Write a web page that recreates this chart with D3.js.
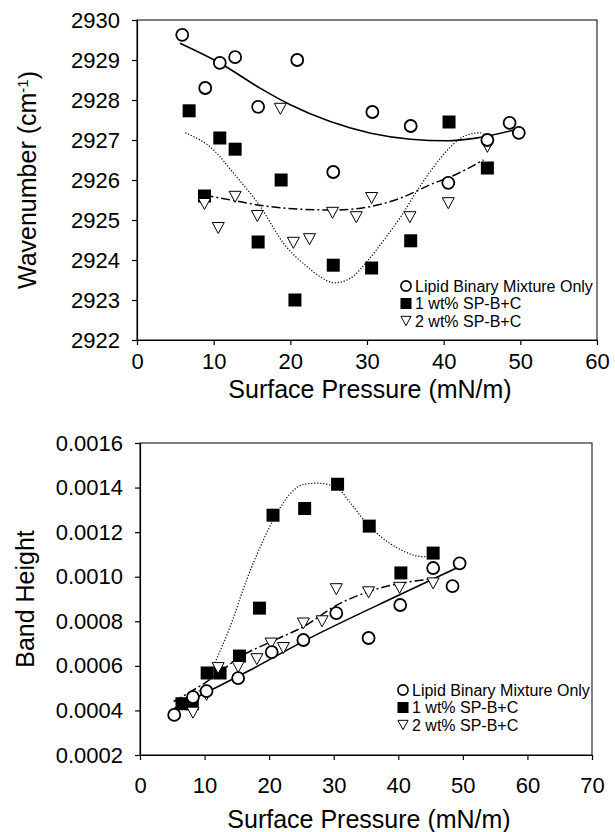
<!DOCTYPE html>
<meta charset="utf-8">
<style>
    body { margin: 0; background: #fff; }
    svg { font-family: "Liberation Sans", Arial, Helvetica, sans-serif; }
    .axis text { font-size: 22px; fill: #000; }
    .axis path, .axis line { stroke: #000; stroke-width: 1.2px; }
    .frame { fill: none; stroke: #000; stroke-width: 1px; }
    .title { font-size: 25px; fill: #000; }
    .legend text { font-size: 16px; fill: #000; }
    .fit { fill: none; stroke: #000; }
    .fit--lipid { stroke-width: 1.6px; }
    .fit--sp1 { stroke-width: 1.2px; stroke-dasharray: 1.2, 1.8; }
    .fit--sp2 { stroke-width: 1.5px; stroke-dasharray: 9, 3, 2, 3; }
</style>
<svg width="615" height="832"></svg>
<script src="https://d3js.org/d3.v7.min.js"></script>
<script>

    var legendLabels = ["Lipid Binary Mixture Only", "1 wt% SP-B+C", "2 wt% SP-B+C"];

    // top panel: wavenumber vs surface pressure
    var topXTicks = [0, 10, 20, 30, 40, 50, 60];
    var topYTicks = [2922, 2923, 2924, 2925, 2926, 2927, 2928, 2929, 2930];

    var topLipid = [[5.9, 2929.63], [8.9, 2928.3], [10.8, 2928.93], [12.8, 2929.07], [15.8, 2927.83], [20.9, 2929.0],
        [25.6, 2926.2], [30.7, 2927.7], [35.7, 2927.35], [40.6, 2925.93], [45.7, 2927.0], [48.6, 2927.43], [49.8, 2927.18]];
    var topSp1 = [[6.8, 2927.73], [8.8, 2925.6], [10.8, 2927.05], [12.8, 2926.77], [15.8, 2924.45], [18.8, 2926.0],
        [20.6, 2923.0], [25.6, 2923.87], [30.6, 2923.8], [35.7, 2924.48], [40.7, 2927.45], [45.7, 2926.3]];
    var topSp2 = [[8.8, 2925.4], [10.6, 2924.8], [12.8, 2925.58], [15.7, 2925.1], [18.7, 2927.78], [20.4, 2924.43],
        [22.5, 2924.52], [25.5, 2925.18], [28.6, 2925.07], [30.6, 2925.55], [35.6, 2925.07], [40.6, 2925.42], [45.7, 2926.83]];

    var topLipidFit = [[5.6, 2929.42], [10.85, 2928.92], [16.1, 2928.29], [20, 2927.88], [25.2, 2927.46], [30.5, 2927.17],
        [35.7, 2927.02], [40.5, 2926.98], [44, 2927.04], [49.2, 2927.25]];
    var topSp1Fit = [[6.3, 2927.18], [10, 2926.75], [12.6, 2926.17], [16.1, 2925.33], [19.1, 2924.42], [22.2, 2923.83],
        [23.9, 2923.58], [25.7, 2923.43], [27.8, 2923.54], [30, 2923.96], [32.2, 2924.5], [34.4, 2925.08], [36.6, 2925.75],
        [38.7, 2926.33], [40.9, 2926.83], [43.1, 2927.13], [44.8, 2927.18], [45.5, 2927.08]];
    var topSp2Fit = [[8.8, 2925.62], [12.8, 2925.48], [16, 2925.37], [21.3, 2925.27], [25.6, 2925.25], [30, 2925.32],
        [34.4, 2925.55], [38.7, 2925.92], [40.9, 2926.08], [45.2, 2926.5]];

    // bottom panel: band height vs surface pressure
    var botXTicks = [0, 10, 20, 30, 40, 50, 60, 70];
    var botYTicks = [0.0002, 0.0004, 0.0006, 0.0008, 0.0010, 0.0012, 0.0014, 0.0016];

    var botLipid = [[5.3, 0.00038], [8.2, 0.00046], [10.3, 0.000487], [15.2, 0.000545], [20.4, 0.000662], [25.3, 0.000716],
        [30.4, 0.000837], [35.4, 0.000725], [40.3, 0.000873], [45.4, 0.001039], [48.4, 0.000958], [49.5, 0.00106]];
    var botSp1 = [[6.5, 0.00043], [8.1, 0.00043], [10.4, 0.000568], [12.4, 0.000568], [15.4, 0.000644], [18.5, 0.000859],
        [20.6, 0.001276], [25.5, 0.001306], [30.6, 0.001415], [35.5, 0.001227], [40.4, 0.001017], [45.4, 0.001106]];
    var botSp2 = [[8.2, 0.00039], [10.3, 0.00047], [12.1, 0.00059], [15.2, 0.000595], [18.1, 0.00063], [20.3, 0.0007],
        [22.2, 0.00068], [25.3, 0.00079], [28.2, 0.0008], [30.4, 0.000944], [35.4, 0.00093], [40.2, 0.00095], [45.4, 0.00097]];

    var botLipidFit = [[4.7, 0.0004], [17, 0.00058], [25.3, 0.00071], [40.3, 0.00092], [49.1, 0.00104]];
    var botSp1Fit = [[6.5, 0.00043], [8.5, 0.00047], [10.5, 0.00054], [11.4, 0.0006], [13.95, 0.000775], [16.5, 0.000985],
        [19.1, 0.001164], [21.2, 0.001285], [23.3, 0.001374], [25.3, 0.001414], [27.4, 0.00142], [30.5, 0.0014],
        [32.6, 0.00133], [35.1, 0.00124], [39.8, 0.00113], [43.9, 0.00109], [45.4, 0.0011]];
    var botSp2Fit = [[5.2, 0.00044], [10.9, 0.00054], [15.5, 0.00064], [21.2, 0.00072], [25.6, 0.00078], [30, 0.000865],
        [35.1, 0.00093], [40.3, 0.00097], [45.2, 0.00099]];

    var svg = d3.select("svg");

    drawPanel({
        x: d3.scaleLinear().domain([0, 60]).range([137, 597]),
        y: d3.scaleLinear().domain([2922, 2930]).range([340, 20]),
        xTicks: topXTicks, yTicks: topYTicks, yFormat: d3.format("d"),
        xLabelGap: 8, xTitleY: 398,
        lipid: topLipid, sp1: topSp1, sp2: topSp2,
        lipidFit: topLipidFit, sp1Fit: topSp1Fit, sp2Fit: topSp2Fit,
        legendX: 406, legendY: 286,
        yTitle: "Wavenumber", yTitleX: 27
    });

    drawPanel({
        x: d3.scaleLinear().domain([0, 70]).range([140, 592]),
        y: d3.scaleLinear().domain([0.0002, 0.0016]).range([755, 443]),
        xTicks: botXTicks, yTicks: botYTicks, yFormat: d3.format(".4f"),
        xLabelGap: 17, xTitleY: 828,
        lipid: botLipid, sp1: botSp1, sp2: botSp2,
        lipidFit: botLipidFit, sp1Fit: botSp1Fit, sp2Fit: botSp2Fit,
        legendX: 403, legendY: 690,
        yTitle: "Band Height", yTitleX: 25
    });

    function drawPanel(p) {
        var x = p.x, y = p.y;
        var x0 = x.range()[0], x1 = x.range()[1], y0 = y.range()[0], y1 = y.range()[1];

        svg.append("rect")
            .attr("class", "frame")
            .attr("x", x0).attr("y", y1)
            .attr("width", x1 - x0).attr("height", y0 - y1);

        svg.append("g")
            .attr("class", "axis")
            .attr("transform", "translate(0," + y0 + ")")
            .call(d3.axisBottom(x).tickValues(p.xTicks).tickSize(5).tickPadding(p.xLabelGap).tickSizeOuter(0).tickFormat(d3.format("d")));

        svg.append("g")
            .attr("class", "axis")
            .attr("transform", "translate(" + x0 + ",0)")
            .call(d3.axisLeft(y).tickValues(p.yTicks).tickSize(5).tickPadding(12).tickSizeOuter(0).tickFormat(p.yFormat));

        var line = d3.line()
            .x(function (d) { return x(d[0]); })
            .y(function (d) { return y(d[1]); })
            .curve(d3.curveMonotoneX);

        svg.append("path").attr("class", "fit fit--lipid").attr("d", line(p.lipidFit));
        svg.append("path").attr("class", "fit fit--sp1").attr("d", line(p.sp1Fit));
        svg.append("path").attr("class", "fit fit--sp2").attr("d", line(p.sp2Fit));

        svg.append("g").selectAll("path")
            .data(p.sp1).enter().append("path")
            .attr("d", function (d) { return marker("square", x(d[0]), y(d[1])); })
            .attr("fill", "#000");

        svg.append("g").selectAll("path")
            .data(p.sp2).enter().append("path")
            .attr("d", function (d) { return marker("triangle", x(d[0]), y(d[1])); })
            .attr("fill", "#fff").attr("stroke", "#000").attr("stroke-width", 1);

        svg.append("g").selectAll("path")
            .data(p.lipid).enter().append("path")
            .attr("d", function (d) { return marker("circle", x(d[0]), y(d[1])); })
            .attr("fill", "#fff").attr("stroke", "#000").attr("stroke-width", 1.8);

        // legend
        var types = ["circle", "square", "triangle"];
        var legend = svg.append("g").attr("class", "legend");
        legendLabels.forEach(function (label, i) {
            var ly = p.legendY + i * 17.5;
            var m = legend.append("path")
                .attr("d", marker(types[i], p.legendX, ly, 0.85));
            if (types[i] === "square") m.attr("fill", "#000");
            else m.attr("fill", "#fff").attr("stroke", "#000").attr("stroke-width", types[i] === "circle" ? 1.6 : 1);
            legend.append("text")
                .attr("x", p.legendX + 9)
                .attr("y", ly)
                .attr("dy", "0.36em")
                .text(label);
        });

        svg.append("text")
            .attr("class", "title")
            .attr("x", (x0 + x1) / 2 + 3)
            .attr("y", p.xTitleY)
            .attr("text-anchor", "middle")
            .text("Surface Pressure (mN/m)");

        var yt = svg.append("text")
            .attr("class", "title")
            .attr("text-anchor", "middle")
            .attr("transform", "translate(" + p.yTitleX + "," + (y0 + y1) / 2 + ") rotate(-90)")
            .attr("dy", "0.36em");
        yt.append("tspan").text(p.yTitle);
        if (p.yTitle === "Wavenumber") {
            yt.append("tspan").text(" (cm");
            yt.append("tspan").attr("font-size", "15px").attr("dy", "-0.55em").text("-1");
            yt.append("tspan").attr("dy", "0.35em").text(")");
        }
    }

    function marker(type, cx, cy, k) {
        k = k || 1;
        if (type === "circle") {
            var r = 6 * k;
            return "M" + (cx + r) + "," + cy + "A" + r + "," + r + " 0 1,1 " + (cx - r) + "," + cy
                + "A" + r + "," + r + " 0 1,1 " + (cx + r) + "," + cy + "Z";
        }
        if (type === "square") {
            var h = 6.5 * k;
            return "M" + (cx - h) + "," + (cy - h) + "H" + (cx + h) + "V" + (cy + h) + "H" + (cx - h) + "Z";
        }
        var w = 6 * k, t = 5.5 * k;
        return "M" + (cx - w) + "," + (cy - t) + "H" + (cx + w) + "L" + cx + "," + (cy + t) + "Z";
    }

</script>
